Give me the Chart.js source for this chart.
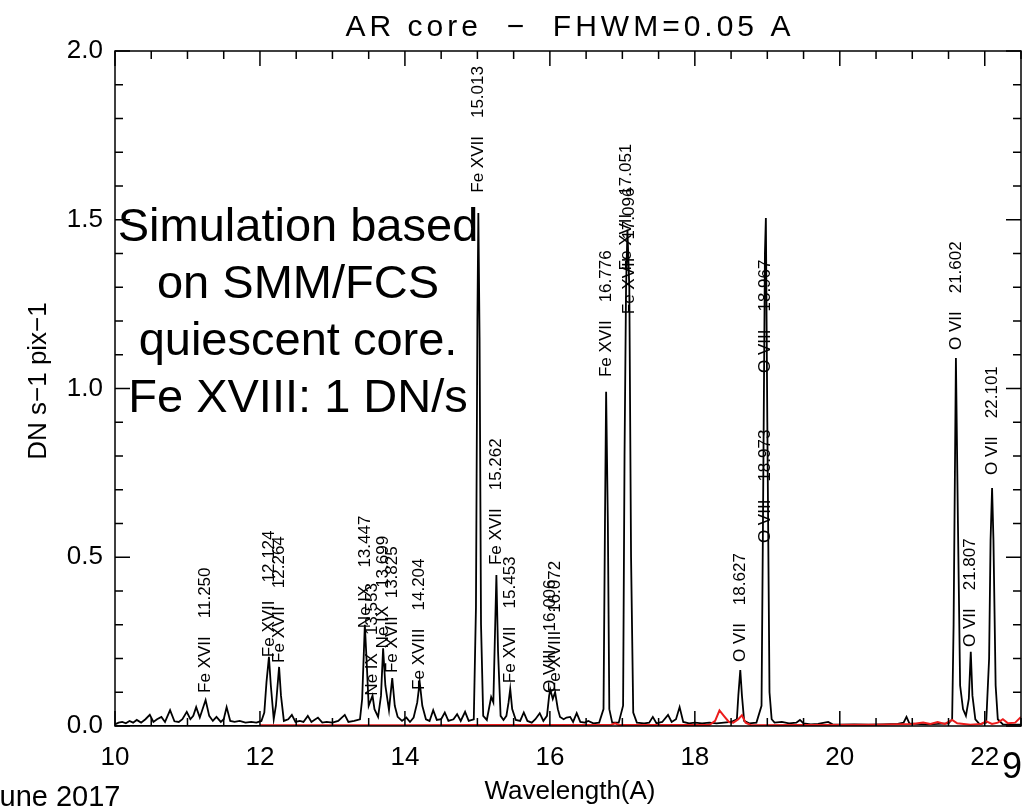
<!DOCTYPE html>
<html>
<head>
<meta charset="utf-8">
<script src="https://cdn.jsdelivr.net/npm/chart.js@4/dist/chart.umd.min.js"></script>
<style>
  html, body { margin: 0; padding: 0; background: #fff; }
  #wrap { position: relative; width: 1030px; height: 807px; }
</style>
</head>
<body>
<div id="wrap"><canvas id="container"></canvas></div>
<script>
// simulated spectrum, AR core, black curve
const specWave = [
  10.00, 10.05, 10.10, 10.15, 10.20, 10.25, 10.30, 10.36, 10.42, 10.48, 10.53, 10.58, 10.64, 10.69,
  10.76, 10.82, 10.88, 10.93, 10.99, 11.04, 11.08, 11.12, 11.17, 11.25, 11.30, 11.35, 11.40, 11.46,
  11.50, 11.54, 11.59, 11.65, 11.72, 11.80, 11.88, 11.95, 12.02, 12.06, 12.09, 12.124, 12.15, 12.19,
  12.22, 12.264, 12.29, 12.33, 12.39, 12.44, 12.49, 12.55, 12.60, 12.66, 12.71, 12.75, 12.80, 12.86,
  12.92, 13.00, 13.08, 13.17, 13.22, 13.30, 13.38, 13.41, 13.447, 13.47, 13.50, 13.553, 13.58, 13.63,
  13.67, 13.699, 13.73, 13.78, 13.80, 13.825, 13.86, 13.90, 13.96, 14.02, 14.07, 14.12, 14.17, 14.204,
  14.24, 14.29, 14.34, 14.39, 14.44, 14.50, 14.55, 14.60, 14.67, 14.72, 14.77, 14.83, 14.88, 14.95,
  14.98, 15.00, 15.013, 15.03, 15.05, 15.08, 15.13, 15.19, 15.22, 15.24, 15.262, 15.285, 15.32, 15.36,
  15.40, 15.43, 15.453, 15.48, 15.53, 15.59, 15.64, 15.69, 15.75, 15.80, 15.86, 15.91, 15.96, 15.99,
  16.006, 16.04, 16.072, 16.11, 16.14, 16.19, 16.23, 16.28, 16.32, 16.37, 16.42, 16.48, 16.53, 16.60,
  16.68, 16.74, 16.76, 16.776, 16.80, 16.82, 16.86, 16.95, 17.01, 17.03, 17.051, 17.07, 17.096, 17.12,
  17.15, 17.20, 17.30, 17.37, 17.42, 17.47, 17.55, 17.63, 17.68, 17.74, 17.79, 17.84, 17.92, 18.00,
  18.10, 18.20, 18.30, 18.40, 18.50, 18.58, 18.60, 18.627, 18.65, 18.68, 18.75, 18.85, 18.92, 18.94,
  18.967, 18.98, 19.00, 19.03, 19.06, 19.10, 19.20, 19.30, 19.40, 19.45, 19.50, 19.60, 19.70, 19.84,
  19.90, 20.00, 20.20, 20.40, 20.60, 20.80, 20.88, 20.92, 20.96, 21.05, 21.20, 21.35, 21.50, 21.55,
  21.57, 21.602, 21.63, 21.66, 21.70, 21.74, 21.78, 21.807, 21.83, 21.87, 21.93, 22.02, 22.06, 22.08,
  22.101, 22.12, 22.15, 22.18, 22.25, 22.35, 22.50
];
const specDN = [
  0.005, 0.010, 0.012, 0.008, 0.015, 0.010, 0.018, 0.010, 0.020, 0.033, 0.012, 0.020, 0.027, 0.012,
  0.047, 0.014, 0.012, 0.020, 0.042, 0.020, 0.030, 0.056, 0.025, 0.077, 0.030, 0.015, 0.027, 0.012,
  0.020, 0.056, 0.015, 0.012, 0.015, 0.010, 0.012, 0.010, 0.015, 0.040, 0.130, 0.205, 0.120, 0.020,
  0.060, 0.175, 0.090, 0.015, 0.020, 0.033, 0.012, 0.015, 0.012, 0.030, 0.012, 0.018, 0.025, 0.010,
  0.012, 0.010, 0.015, 0.033, 0.012, 0.015, 0.020, 0.080, 0.300, 0.200, 0.060, 0.090, 0.050, 0.027,
  0.090, 0.230, 0.120, 0.047, 0.090, 0.142, 0.060, 0.027, 0.015, 0.025, 0.012, 0.025, 0.070, 0.130,
  0.060, 0.020, 0.015, 0.047, 0.018, 0.020, 0.040, 0.015, 0.020, 0.035, 0.015, 0.042, 0.015, 0.020,
  0.350, 1.200, 1.520, 1.150, 0.300, 0.030, 0.018, 0.086, 0.070, 0.250, 0.447, 0.220, 0.030, 0.018,
  0.030, 0.070, 0.110, 0.050, 0.018, 0.015, 0.040, 0.015, 0.010, 0.020, 0.038, 0.015, 0.030, 0.090,
  0.107, 0.080, 0.100, 0.050, 0.027, 0.020, 0.025, 0.027, 0.012, 0.038, 0.012, 0.010, 0.015, 0.008,
  0.010, 0.050, 0.600, 0.990, 0.600, 0.050, 0.010, 0.010, 0.060, 0.800, 1.300, 1.470, 1.300, 0.500,
  0.040, 0.010, 0.008, 0.010, 0.027, 0.008, 0.012, 0.033, 0.012, 0.020, 0.056, 0.012, 0.008, 0.010,
  0.008, 0.010, 0.008, 0.010, 0.012, 0.020, 0.090, 0.166, 0.090, 0.015, 0.008, 0.010, 0.060, 0.600,
  1.400, 1.505, 0.900, 0.100, 0.020, 0.010, 0.012, 0.008, 0.010, 0.018, 0.008, 0.005, 0.006, 0.012,
  0.005, 0.004, 0.005, 0.004, 0.005, 0.006, 0.010, 0.027, 0.008, 0.006, 0.005, 0.006, 0.008, 0.020,
  0.300, 1.090, 0.600, 0.120, 0.050, 0.030, 0.080, 0.220, 0.090, 0.020, 0.005, 0.010, 0.200, 0.550,
  0.705, 0.550, 0.120, 0.020, 0.005, 0.004, 0.004
];

// second (red) curve
const redWave = [
  12.00, 13.00, 14.00, 15.00, 16.00, 16.85, 16.90, 16.95, 17.50, 18.20, 18.28, 18.34, 18.40, 18.47,
  18.53, 18.60, 18.65, 18.70, 18.78, 19.50, 20.50, 21.00, 21.15, 21.25, 21.35, 21.45, 21.55, 21.62,
  21.80, 21.95, 22.02, 22.10, 22.18, 22.25, 22.32, 22.42, 22.50
];
const redDN = [
  0.002, 0.002, 0.002, 0.003, 0.003, 0.004, 0.008, 0.003, 0.003, 0.003, 0.015, 0.046, 0.030, 0.012,
  0.010, 0.020, 0.032, 0.010, 0.002, 0.003, 0.004, 0.006, 0.010, 0.006, 0.012, 0.006, 0.018, 0.008,
  0.004, 0.006, 0.014, 0.006, 0.010, 0.020, 0.008, 0.010, 0.027
];

// identified lines: wavelength, ion, label level
const lineWave = [11.250, 12.124, 12.264, 13.447, 13.553, 13.699, 13.825, 14.204, 15.013, 15.262, 15.453,
  16.006, 16.072, 16.776, 17.051, 17.096, 18.627, 18.967, 18.973, 21.602, 21.807, 22.101];
const lineIon = ['Fe XVII', 'Fe XVII', 'Fe XVII', 'Ne IX', 'Ne IX', 'Ne IX', 'Fe XVII', 'Fe XVIII', 'Fe XVII',
  'Fe XVII', 'Fe XVII', 'O VIII', 'Fe XVIII', 'Fe XVII', 'Fe XVII', 'Fe XVII', 'O VII', 'O VIII', 'O VIII',
  'O VII', 'O VII', 'O VII'];
const lineLevel = [0.098, 0.204, 0.187, 0.29, 0.09, 0.23, 0.157, 0.107, 1.58, 0.477, 0.127,
  0.098, 0.10, 1.034, 1.35, 1.22, 0.19, 1.046, 0.542, 1.114, 0.234, 0.744];

const xTicks = [10, 12, 14, 16, 18, 20, 22];
const yTicks = [0, 0.5, 1.0, 1.5, 2.0];

const FONT = "'Liberation Sans', Arial, sans-serif";

const toXY = (xs, ys) => xs.map((x, i) => ({ x: x, y: ys[i] }));

// IDL-style frame: box on all four sides with inward ticks, plus annotations
const framePlugin = {
  id: 'frame',
  afterDatasetsDraw(chart) {
    const { ctx, chartArea: a, scales: { x, y } } = chart;
    ctx.save();
    ctx.strokeStyle = '#000';
    ctx.lineWidth = 1.5;
    ctx.strokeRect(a.left, a.top, a.right - a.left, a.bottom - a.top);

    ctx.beginPath();
    for (let i = 0; i <= 25; i++) {
      const v = 10 + i * 0.5;
      const px = x.getPixelForValue(v);
      const len = (i % 4 === 0) ? 15 : 8;
      ctx.moveTo(px, a.bottom); ctx.lineTo(px, a.bottom - len);
      ctx.moveTo(px, a.top); ctx.lineTo(px, a.top + len);
    }
    for (let i = 0; i <= 20; i++) {
      const py = y.getPixelForValue(i * 0.1);
      const len = (i % 5 === 0) ? 15 : 8;
      ctx.moveTo(a.left, py); ctx.lineTo(a.left + len, py);
      ctx.moveTo(a.right, py); ctx.lineTo(a.right - len, py);
    }
    ctx.stroke();

    // line identifications
    ctx.fillStyle = '#000';
    ctx.font = '17px ' + FONT;
    ctx.textAlign = 'left';
    ctx.textBaseline = 'middle';
    lineWave.forEach((w, i) => {
      ctx.save();
      ctx.translate(x.getPixelForValue(w), y.getPixelForValue(lineLevel[i]));
      ctx.rotate(-Math.PI / 2);
      const ion = lineIon[i];
      ctx.fillText(ion, 0, 0);
      ctx.fillText(w.toFixed(3), ctx.measureText(ion).width + 18, 0);
      ctx.restore();
    });

    // title and axis titles
    ctx.textAlign = 'center';
    ctx.textBaseline = 'alphabetic';
    ctx.font = '30px ' + FONT;
    ctx.letterSpacing = '4px';
    ctx.fillText('AR core  \u2212  FHWM=0.05 A', (a.left + a.right) / 2 + 2, 36);
    ctx.letterSpacing = '0px';
    ctx.font = '26px ' + FONT;
    ctx.fillText('Wavelength(A)', 570, 799);
    ctx.save();
    ctx.translate(46, 381);
    ctx.rotate(-Math.PI / 2);
    ctx.fillText('DN s\u22121 pix\u22121', 0, 0);
    ctx.restore();

    // note in the plot
    ctx.font = '47px ' + FONT;
    ['Simulation based', 'on SMM/FCS', 'quiescent core.', 'Fe XVIII: 1 DN/s'].forEach((t, i) => {
      ctx.fillText(t, 298, 241 + i * 57);
    });

    // slide footer
    ctx.textAlign = 'left';
    ctx.font = '29px ' + FONT;
    ctx.fillText('June 2017', -15, 806);
    ctx.font = '36px ' + FONT;
    ctx.fillText('9', 1002, 778);
    ctx.restore();
  }
};

const config = {
  type: 'line',
  data: {
    datasets: [
      {
        data: toXY(redWave, redDN),
        borderColor: 'rgb(236,28,28)',
        borderWidth: 2,
        pointRadius: 0,
        order: 0,
      },
      {
        data: toXY(specWave, specDN),
        borderColor: '#000',
        borderWidth: 1.8,
        pointRadius: 0,
        order: 1,
      },
      {
        data: toXY([10, 12], [0, 0]),
        borderColor: '#000',
        borderWidth: 1.8,
        pointRadius: 0,
        order: 2,
      },
    ],
  },
  options: {
    responsive: true,
    maintainAspectRatio: false,
    devicePixelRatio: 1,
    animation: false,
    layout: { padding: { left: 0, top: 51, right: 9, bottom: 0 } },
    plugins: {
      legend: { display: false },
      tooltip: { enabled: false },
    },
    scales: {
      x: {
        type: 'linear',
        min: 10,
        max: 22.5,
        afterFit: (s) => { s.height = 81; },
        afterBuildTicks: (s) => { s.ticks = xTicks.map((v) => ({ value: v })); },
        grid: { display: false, drawTicks: false },
        border: { display: false },
        ticks: {
          color: '#000',
          padding: 16,
          maxRotation: 0,
          font: { family: FONT, size: 26 },
          callback: (v) => String(v),
        },
      },
      y: {
        type: 'linear',
        min: 0,
        max: 2.0,
        afterFit: (s) => { s.width = 115; },
        afterBuildTicks: (s) => { s.ticks = yTicks.map((v) => ({ value: v })); },
        grid: { display: false, drawTicks: false },
        border: { display: false },
        ticks: {
          color: '#000',
          padding: 12,
          font: { family: FONT, size: 26 },
          callback: (v) => v.toFixed(1),
        },
      },
    },
  },
  plugins: [framePlugin],
};

const chart = new Chart(document.getElementById('container'), config);
</script>
</body>
</html>
